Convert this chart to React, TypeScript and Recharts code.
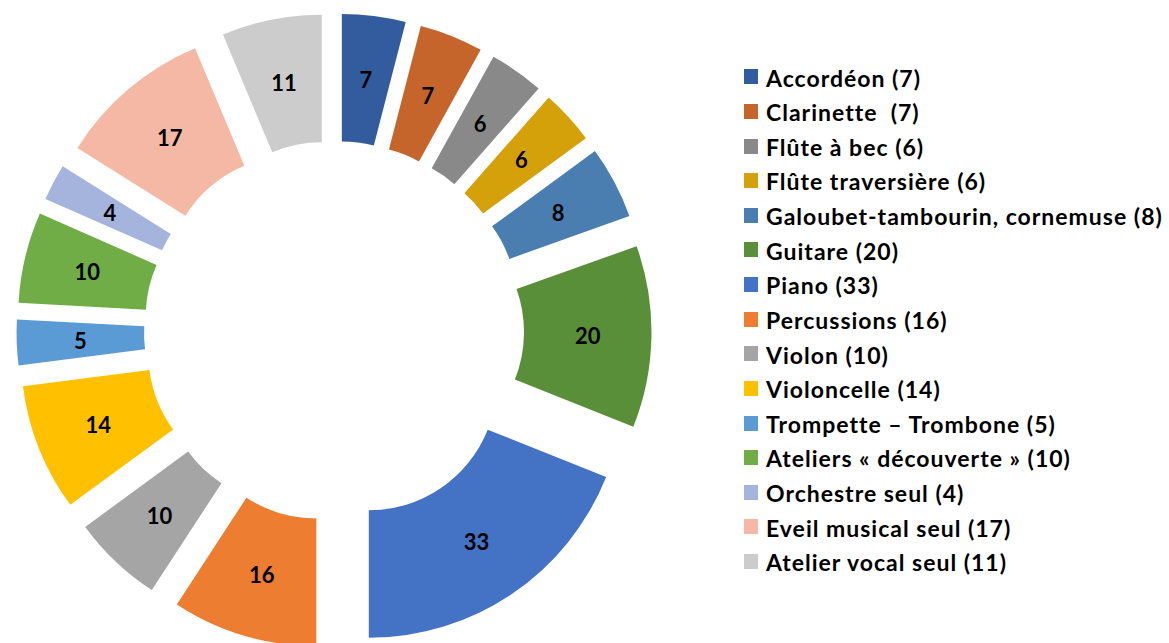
import React from "react";
import { PieChart, Pie, Cell, Legend, Sector } from "recharts";

const INSTRUMENTS = [
  "Accordéon",
  "Clarinette ",
  "Flûte à bec",
  "Flûte traversière",
  "Galoubet-tambourin, cornemuse",
  "Guitare",
  "Piano",
  "Percussions",
  "Violon",
  "Violoncelle",
  "Trompette – Trombone",
  "Ateliers « découverte »",
  "Orchestre seul",
  "Eveil musical seul",
  "Atelier vocal seul",
];

const PUPILS = [7, 7, 6, 6, 8, 20, 33, 16, 10, 14, 5, 10, 4, 17, 11];

const COLORS = [
  "#335c9f", // dark blue
  "#c6652b", // dark orange
  "#898989", // dark grey
  "#d5a10b", // dark gold
  "#4a7eb1", // steel blue
  "#5a8f3a", // dark green
  "#4472c4", // blue
  "#ed7d31", // orange
  "#a5a5a5", // grey
  "#ffc000", // gold
  "#5b9bd5", // light blue
  "#70ad47", // green
  "#a4b4dc", // pale blue
  "#f4b8a5", // salmon
  "#cccccc", // light grey
];

const data = INSTRUMENTS.map((name, i) => ({ name, value: PUPILS[i] }));

const RADIAN = Math.PI / 180;
const EXPLODE = 62;
const FONT = "Lato, 'Open Sans', sans-serif";

// each slice is pushed out along its mid angle, like Excel's point explosion
const renderSlice = (props: any) => {
  const { cx, cy, midAngle, innerRadius, outerRadius, startAngle, endAngle, index, value } = props;
  const ox = cx + EXPLODE * Math.cos(-midAngle * RADIAN);
  const oy = cy + EXPLODE * Math.sin(-midAngle * RADIAN);
  const r = (innerRadius + outerRadius) / 2;
  const tx = ox + r * Math.cos(-midAngle * RADIAN);
  const ty = oy + r * Math.sin(-midAngle * RADIAN);
  return (
    <g key={`slice-${index}`}>
      <Sector
        cx={ox}
        cy={oy}
        innerRadius={innerRadius}
        outerRadius={outerRadius}
        startAngle={startAngle}
        endAngle={endAngle}
        fill={COLORS[index % COLORS.length]}
        stroke="none"
      />
      <text
        x={tx}
        y={ty}
        textAnchor="middle"
        dominantBaseline="central"
        fill="#000"
        fontFamily={FONT}
        fontWeight={700}
        fontSize={22}
      >
        {value}
      </text>
    </g>
  );
};

const LegendList = () => (
  <div style={{ fontFamily: FONT, fontWeight: 700, fontSize: 23, letterSpacing: 1, color: "#000" }}>
    {INSTRUMENTS.map((name, i) => (
      <div
        key={name}
        style={{ display: "flex", alignItems: "center", height: 34.63, lineHeight: "34.63px", whiteSpace: "pre" }}
      >
        <span
          style={{
            display: "inline-block",
            width: 14,
            height: 15,
            background: COLORS[i],
            marginRight: 8,
            position: "relative",
            top: -1,
          }}
        />
        <span>{`${name} (${PUPILS[i]})`}</span>
      </div>
    ))}
  </div>
);

export default function App() {
  return (
    <div style={{ position: "absolute", left: 0, top: 0, width: 1169, height: 643, background: "#fff" }}>
      <PieChart width={1169} height={643} margin={{ top: 0, right: 0, bottom: 0, left: 0 }}>
        <Pie
          data={data}
          dataKey="value"
          nameKey="name"
          cx={334}
          cy={331}
          innerRadius={128}
          outerRadius={255.5}
          startAngle={90}
          endAngle={-270}
          stroke="none"
          labelLine={false}
          label={renderSlice}
          isAnimationActive={false}
        >
          {data.map((_, i) => (
            <Cell key={`cell-${i}`} fill={COLORS[i]} fillOpacity={0} />
          ))}
        </Pie>
        <Legend
          layout="vertical"
          content={<LegendList />}
          wrapperStyle={{ position: "absolute", left: 744, top: 60.5, width: 425, height: "auto" }}
        />
      </PieChart>
    </div>
  );
}
